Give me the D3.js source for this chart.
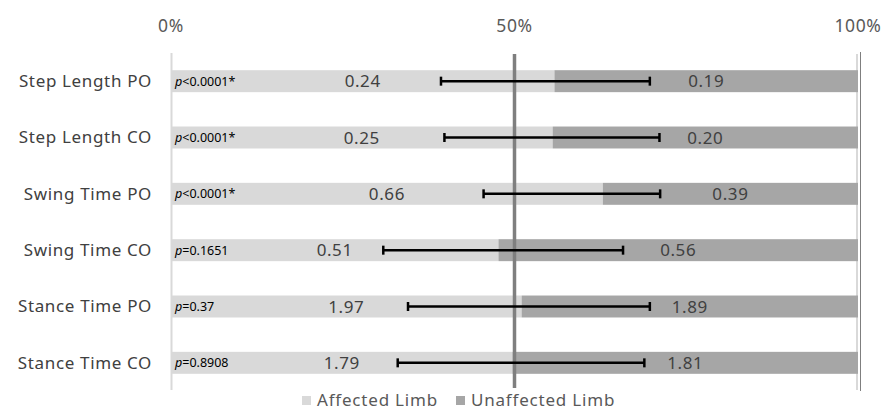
<!DOCTYPE html>
<html>
<head>
<meta charset="utf-8">
<script src="https://cdn.jsdelivr.net/npm/d3@7"></script>
<style>
  html, body { margin: 0; padding: 0; background: #fff; }
  svg { display: block; font-family: "Noto Sans", "Open Sans", sans-serif; }
</style>
</head>
<body>
<svg id="chart" width="883" height="410"></svg>
<script>
// Gait symmetry measures: affected vs unaffected limb means
const categories = ["Step Length PO", "Step Length CO", "Swing Time PO", "Swing Time CO", "Stance Time PO", "Stance Time CO"];
const affected   = [0.24, 0.25, 0.66, 0.51, 1.97, 1.79];
const unaffected = [0.19, 0.20, 0.39, 0.56, 1.89, 1.81];
const pValues    = ["<0.0001*", "<0.0001*", "<0.0001*", "=0.1651", "=0.37", "=0.8908"];
// error bar extent, as share of the combined bar
const errLow  = [0.393, 0.398, 0.455, 0.309, 0.345, 0.330];
const errHigh = [0.697, 0.711, 0.712, 0.658, 0.697, 0.689];
const ticks = [0, 0.5, 1];
const seriesNames = ["Affected Limb", "Unaffected Limb"];
const colors = ["#d9d9d9", "#a6a6a6"];

const svg = d3.select("#chart");

const x = d3.scaleLinear().domain([0, 1]).range([171, 858]);
const y = d3.scaleBand().domain(categories).range([53, 391]).paddingInner(0.61).paddingOuter(0.305);

const rows = categories.map((c, i) => {
  const total = affected[i] + unaffected[i];
  return { c, a: affected[i], u: unaffected[i], share: affected[i] / total, p: pValues[i], lo: errLow[i], hi: errHigh[i] };
});

// 100% gridline and plot border
svg.append("line")
  .attr("x1", x(1) - 1).attr("x2", x(1) - 1)
  .attr("y1", 54).attr("y2", 390)
  .attr("stroke", "#d9d9d9").attr("stroke-width", 2);
svg.append("line")
  .attr("x1", x(1) + 2.5).attr("x2", x(1) + 2.5)
  .attr("y1", 52).attr("y2", 391)
  .attr("stroke", "#7f7f7f").attr("stroke-width", 1);

// top axis labels
svg.append("g").selectAll("text").data(ticks).join("text")
  .attr("x", d => x(d)).attr("y", 32)
  .attr("text-anchor", "middle")
  .attr("font-size", 17.5).attr("letter-spacing", 0.6).attr("fill", "#595959")
  .text(d3.format(".0%"));

// bars
const g = svg.append("g");
g.selectAll("rect.aff").data(rows).join("rect")
  .attr("class", "aff")
  .attr("x", x(0)).attr("y", d => y(d.c))
  .attr("width", d => x(d.share) - x(0)).attr("height", y.bandwidth())
  .attr("fill", colors[0]);
g.selectAll("rect.unaff").data(rows).join("rect")
  .attr("class", "unaff")
  .attr("x", d => x(d.share)).attr("y", d => y(d.c))
  .attr("width", d => x(1) - x(d.share)).attr("height", y.bandwidth())
  .attr("fill", colors[1]);

// category axis line
svg.append("line")
  .attr("x1", x(0) + 0.5).attr("x2", x(0) + 0.5)
  .attr("y1", 53).attr("y2", 390)
  .attr("stroke", "#d9d9d9").attr("stroke-width", 2);

// 50% reference line
svg.append("line")
  .attr("x1", x(0.5)).attr("x2", x(0.5))
  .attr("y1", 54).attr("y2", 388)
  .attr("stroke", "#7f7f7f").attr("stroke-width", 3.5);

// category labels
svg.append("g").selectAll("text").data(rows).join("text")
  .attr("x", 152).attr("y", d => y(d.c) + y.bandwidth() / 2)
  .attr("dy", "0.35em")
  .attr("text-anchor", "end")
  .attr("font-size", 17).attr("letter-spacing", 0.65).attr("fill", "#404040")
  .text(d => d.c);

// value labels, centred on each segment
svg.append("g").selectAll("text").data(rows).join("text")
  .attr("x", d => (x(0) + x(d.share)) / 2).attr("y", d => y(d.c) + y.bandwidth() / 2)
  .attr("dy", "0.36em").attr("text-anchor", "middle")
  .attr("font-size", 17).attr("letter-spacing", 0.6).attr("fill", "#404040")
  .text(d => d3.format(".2f")(d.a));
svg.append("g").selectAll("text").data(rows).join("text")
  .attr("x", d => (x(d.share) + x(1)) / 2).attr("y", d => y(d.c) + y.bandwidth() / 2)
  .attr("dy", "0.36em").attr("text-anchor", "middle")
  .attr("font-size", 17).attr("letter-spacing", 0.6).attr("fill", "#404040")
  .text(d => d3.format(".2f")(d.u));

// p-values
const pt = svg.append("g").selectAll("text").data(rows).join("text")
  .attr("x", 175).attr("y", d => y(d.c) + y.bandwidth() / 2)
  .attr("dy", "0.36em")
  .attr("font-size", 12.5).attr("fill", "#000");
pt.append("tspan").attr("font-style", "italic").text("p");
pt.append("tspan").text(d => d.p);

// error bars
const eb = svg.append("g").attr("stroke", "#000").attr("stroke-width", 2.5);
eb.selectAll("line.span").data(rows).join("line")
  .attr("x1", d => x(d.lo)).attr("x2", d => x(d.hi))
  .attr("y1", d => y(d.c) + y.bandwidth() / 2).attr("y2", d => y(d.c) + y.bandwidth() / 2);
eb.selectAll("line.lo").data(rows).join("line")
  .attr("x1", d => x(d.lo)).attr("x2", d => x(d.lo))
  .attr("y1", d => y(d.c) + y.bandwidth() / 2 - 4.5).attr("y2", d => y(d.c) + y.bandwidth() / 2 + 4.5);
eb.selectAll("line.hi").data(rows).join("line")
  .attr("x1", d => x(d.hi)).attr("x2", d => x(d.hi))
  .attr("y1", d => y(d.c) + y.bandwidth() / 2 - 4.5).attr("y2", d => y(d.c) + y.bandwidth() / 2 + 4.5);

// legend
const legendX = [302, 456];
const lg = svg.append("g").selectAll("g").data(seriesNames).join("g")
  .attr("transform", (d, i) => `translate(${legendX[i]},394)`);
lg.append("rect").attr("width", 9).attr("height", 9).attr("y", 2)
  .attr("fill", (d, i) => colors[i]);
lg.append("text").attr("x", 15).attr("y", 12)
  .attr("font-size", 17).attr("letter-spacing", 0.8).attr("fill", "#595959")
  .text(d => d);
</script>
</body>
</html>
